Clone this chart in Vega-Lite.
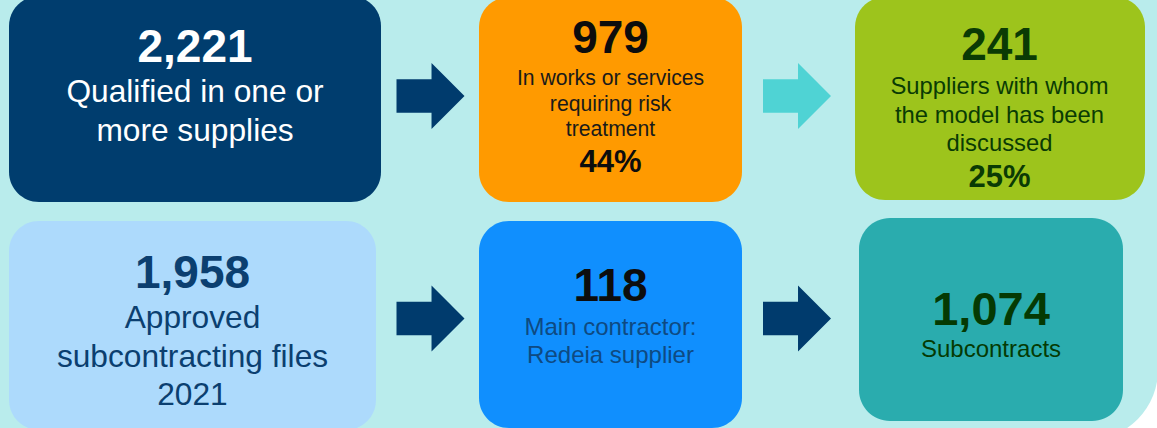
{
  "$schema": "https://vega.github.io/schema/vega-lite/v6.json",
  "width": 1157,
  "height": 428,
  "padding": 0,
  "autosize": {"type": "none"},
  "background": "#FFFFFF",
  "config": {"view": {"stroke": null}, "text": {"font": "Liberation Sans"}},
  "datasets": {
    "boxes": [
      {"box": 1, "step": 1, "stage": 1, "figure": 2221, "label": ["Qualified in one or", "more supplies"], "share": null},
      {"box": 2, "step": 2, "stage": 1, "figure": 979, "label": ["In works or services", "requiring risk", "treatment"], "share": 0.44},
      {"box": 3, "step": 3, "stage": 1, "figure": 241, "label": ["Suppliers with whom", "the model has been", "discussed"], "share": 0.25},
      {"box": 4, "step": 1, "stage": 2, "figure": 1958, "label": ["Approved", "subcontracting files", "2021"], "share": null},
      {"box": 5, "step": 2, "stage": 2, "figure": 118, "label": ["Main contractor:", "Redeia supplier"], "share": null},
      {"box": 6, "step": 3, "stage": 2, "figure": 1074, "label": ["Subcontracts"], "share": null}
    ],
    "arrows": [
      {"link": "1→2", "step": 1.5, "stage": 1},
      {"link": "2→3", "step": 2.5, "stage": 1},
      {"link": "4→5", "step": 1.5, "stage": 2},
      {"link": "5→6", "step": 2.5, "stage": 2}
    ]
  },
  "encoding": {
    "x": {"field": "step", "type": "quantitative", "axis": null,
          "scale": {"domain": [1, 1.5, 2, 2.5, 3], "range": [195, 430.5, 610.5, 797, 995], "nice": false, "zero": false}},
    "y": {"field": "stage", "type": "quantitative", "axis": null,
          "scale": {"domain": [1, 2], "range": [99, 325], "nice": false, "zero": false}}
  },
  "layer": [
    {
      "data": {"values": [{"panel": "frame"}]},
      "mark": {"type": "rect", "fill": "#B9ECEC", "cornerRadiusBottomRight": 70},
      "encoding": {"x": {"value": -10}, "x2": {"value": 1158}, "y": {"value": -10}, "y2": {"value": 440}}
    },
    {
      "data": {"name": "arrows"},
      "transform": [{"filter": "datum.stage === 1"}],
      "mark": {"type": "point", "filled": true, "opacity": 1, "strokeWidth": 0, "size": 4624, "yOffset": -3,
               "shape": "M-1,-0.49L0.03,-0.49L0.03,-0.97L1,0L0.03,0.97L0.03,0.49L-1,0.49Z"},
      "encoding": {"fill": {"field": "link", "type": "nominal", "legend": null,
                            "scale": {"domain": ["1→2", "2→3", "4→5", "5→6"], "range": ["#003B6D", "#4FD3D4", "#003B6D", "#003B6D"]}}}
    },
    {
      "data": {"name": "arrows"},
      "transform": [{"filter": "datum.stage === 2"}],
      "mark": {"type": "point", "filled": true, "opacity": 1, "strokeWidth": 0, "size": 4624, "yOffset": -6.5,
               "shape": "M-1,-0.49L0.03,-0.49L0.03,-0.97L1,0L0.03,0.97L0.03,0.49L-1,0.49Z"},
      "encoding": {"fill": {"field": "link", "type": "nominal", "legend": null,
                            "scale": {"domain": ["1→2", "2→3", "4→5", "5→6"], "range": ["#003B6D", "#4FD3D4", "#003B6D", "#003B6D"]}}}
    },
    {
      "data": {"name": "boxes"},
      "transform": [{"filter": "datum.box === 1"}],
      "layer": [
        {"mark": {"type": "rect", "width": 372, "height": 206, "cornerRadius": 30, "fill": "#003D6E"}},
        {"mark": {"type": "text", "fontWeight": "bold", "fontSize": 46, "baseline": "alphabetic", "align": "center", "dy": -37, "fill": "#FFFFFF"},
         "encoding": {"text": {"field": "figure", "type": "quantitative", "format": ","}}},
        {"mark": {"type": "text", "fontSize": 31.7, "lineHeight": 39, "baseline": "alphabetic", "align": "center", "dy": 3, "fill": "#FFFFFF"},
         "encoding": {"text": {"field": "label", "type": "nominal"}}}
      ]
    },
    {
      "data": {"name": "boxes"},
      "transform": [{"filter": "datum.box === 2"}],
      "layer": [
        {"mark": {"type": "rect", "width": 263, "height": 205, "yOffset": 0.5, "cornerRadius": 30, "fill": "#FF9A00"}},
        {"mark": {"type": "text", "fontWeight": "bold", "fontSize": 46, "baseline": "alphabetic", "align": "center", "dy": -46, "fill": "#0D0D0D"},
         "encoding": {"text": {"field": "figure", "type": "quantitative", "format": ","}}},
        {"mark": {"type": "text", "fontSize": 21.2, "lineHeight": 25.5, "baseline": "alphabetic", "align": "center", "dy": -14, "fill": "#1A1A1A"},
         "encoding": {"text": {"field": "label", "type": "nominal"}}},
        {"mark": {"type": "text", "fontWeight": "bold", "fontSize": 31, "baseline": "alphabetic", "align": "center", "dy": 73, "fill": "#0D0D0D"},
         "encoding": {"text": {"field": "share", "type": "quantitative", "format": ".0%"}}}
      ]
    },
    {
      "data": {"name": "boxes"},
      "transform": [{"filter": "datum.box === 3"}],
      "layer": [
        {"mark": {"type": "rect", "width": 290, "height": 203, "xOffset": 5, "yOffset": -0.5, "cornerRadius": 30, "fill": "#9DC41C"}},
        {"mark": {"type": "text", "fontWeight": "bold", "fontSize": 46, "baseline": "alphabetic", "align": "center", "dx": 4.5, "dy": -39, "fill": "#0A3B04"},
         "encoding": {"text": {"field": "figure", "type": "quantitative", "format": ","}}},
        {"mark": {"type": "text", "fontSize": 23.8, "lineHeight": 28.5, "baseline": "alphabetic", "align": "center", "dx": 4.5, "dy": -5, "fill": "#0A3B04"},
         "encoding": {"text": {"field": "label", "type": "nominal"}}},
        {"mark": {"type": "text", "fontWeight": "bold", "fontSize": 31, "baseline": "alphabetic", "align": "center", "dx": 4.5, "dy": 88, "fill": "#0A3B04"},
         "encoding": {"text": {"field": "share", "type": "quantitative", "format": ".0%"}}}
      ]
    },
    {
      "data": {"name": "boxes"},
      "transform": [{"filter": "datum.box === 4"}],
      "layer": [
        {"mark": {"type": "rect", "width": 367, "height": 209, "xOffset": -2.5, "yOffset": 0.5, "cornerRadius": 30, "fill": "#ADDAFC"}},
        {"mark": {"type": "text", "fontWeight": "bold", "fontSize": 46, "baseline": "alphabetic", "align": "center", "dx": -2.5, "dy": -37, "fill": "#0B3F70"},
         "encoding": {"text": {"field": "figure", "type": "quantitative", "format": ","}}},
        {"mark": {"type": "text", "fontSize": 31.7, "lineHeight": 38.5, "baseline": "alphabetic", "align": "center", "dx": -2.5, "dy": 3, "fill": "#0B3F70"},
         "encoding": {"text": {"field": "label", "type": "nominal"}}}
      ]
    },
    {
      "data": {"name": "boxes"},
      "transform": [{"filter": "datum.box === 5"}],
      "layer": [
        {"mark": {"type": "rect", "width": 263, "height": 207, "yOffset": -0.5, "cornerRadius": 30, "fill": "#108FFE"}},
        {"mark": {"type": "text", "fontWeight": "bold", "fontSize": 46, "baseline": "alphabetic", "align": "center", "dy": -24, "fill": "#0D0D0D"},
         "encoding": {"text": {"field": "figure", "type": "quantitative", "format": ","}}},
        {"mark": {"type": "text", "fontSize": 24, "lineHeight": 28, "baseline": "alphabetic", "align": "center", "dy": 10, "fill": "#0E4A82"},
         "encoding": {"text": {"field": "label", "type": "nominal"}}}
      ]
    },
    {
      "data": {"name": "boxes"},
      "transform": [{"filter": "datum.box === 6"}],
      "layer": [
        {"mark": {"type": "rect", "width": 264, "height": 203, "xOffset": -4, "yOffset": -5.5, "cornerRadius": 31, "fill": "#2AACAE"}},
        {"mark": {"type": "text", "fontWeight": "bold", "fontSize": 47, "baseline": "alphabetic", "align": "center", "dx": -4, "dy": 0, "fill": "#053A03"},
         "encoding": {"text": {"field": "figure", "type": "quantitative", "format": ","}}},
        {"mark": {"type": "text", "fontSize": 24, "baseline": "alphabetic", "align": "center", "dx": -4, "dy": 32, "fill": "#053A03"},
         "encoding": {"text": {"field": "label", "type": "nominal"}}}
      ]
    }
  ]
}
